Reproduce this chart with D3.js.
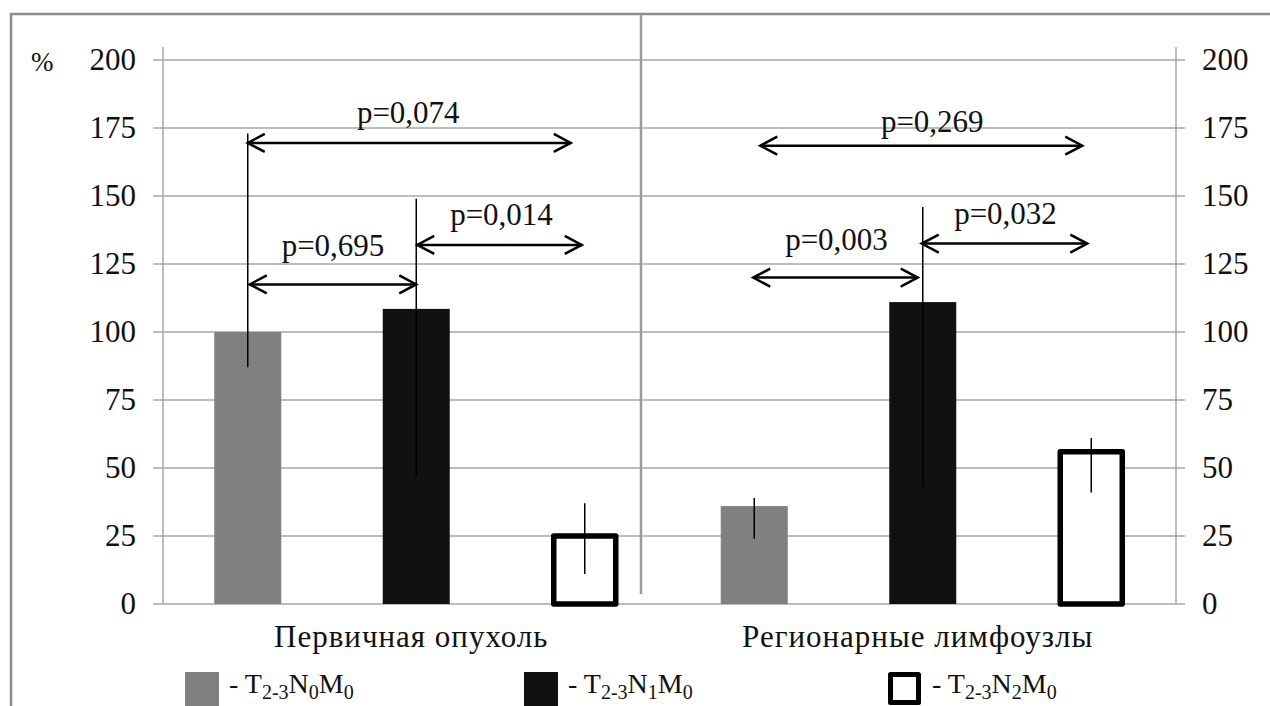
<!DOCTYPE html>
<html>
<head>
<meta charset="utf-8">
<script src="https://cdn.jsdelivr.net/npm/d3@7"></script>
<style>
  body { margin: 0; background: #fff; }
  svg, svg text { font-family: "Liberation Serif", Tinos, "Times New Roman", "DejaVu Serif", serif !important; }
  svg { display: block; }
</style>
</head>
<body>
<svg id="chart" width="1270" height="706"></svg>
<script>
// Chart data
const categories = ["Первичная опухоль", "Регионарные лимфоузлы"];
const series = ["T2-3N0M0", "T2-3N1M0", "T2-3N2M0"];

// bar heights, one array per series (order follows categories)
const valuesN0 = [100, 36];
const valuesN1 = [108.5, 111];
const valuesN2 = [25, 56];

// error bar ends [low, high]
const errN0 = [[87, 173], [24, 39]];
const errN1 = [[47, 149], [43, 146]];
const errN2 = [[11, 37], [41, 61]];

const yTicks = [0, 25, 50, 75, 100, 125, 150, 175, 200];

// p-value comparisons
const pCategory = ["Первичная опухоль", "Первичная опухоль", "Первичная опухоль",
                   "Регионарные лимфоузлы", "Регионарные лимфоузлы", "Регионарные лимфоузлы"];
const pFrom = ["T2-3N0M0", "T2-3N0M0", "T2-3N1M0", "T2-3N0M0", "T2-3N0M0", "T2-3N1M0"];
const pTo = ["T2-3N2M0", "T2-3N1M0", "T2-3N2M0", "T2-3N2M0", "T2-3N1M0", "T2-3N2M0"];
const pLevel = [169.5, 117.5, 132, 168.5, 120, 132.5];
const pLabel = ["p=0,074", "p=0,695", "p=0,014", "p=0,269", "p=0,003", "p=0,032"];

const svg = d3.select("#chart");

// layout
const plotLeft = 163, plotRight = 1176, plotTop = 47, plotBase = 604;
const fills = ["#808080", "#111111", "#ffffff"];

let x = d3.scaleBand()
    .domain(categories)
    .range([plotLeft, plotRight]);

let xs = d3.scalePoint()
    .domain(series)
    .range([-168.5, 168.5]);

let y = d3.scaleLinear()
    .domain([0, 200])
    .range([plotBase, 60]);

const barW = 67;

// outer frame (runs off the picture right and bottom)
svg.append("rect")
    .attr("x", 11).attr("y", 14)
    .attr("width", 1300).attr("height", 800)
    .attr("fill", "none")
    .attr("stroke", "#8c8c8c")
    .attr("stroke-width", 2.5);

// gridlines
svg.append("g")
    .selectAll("line")
    .data(yTicks)
    .join("line")
    .attr("x1", plotLeft - 10).attr("x2", plotRight + 9)
    .attr("y1", d => y(d)).attr("y2", d => y(d))
    .attr("stroke", "#a6a6a6")
    .attr("stroke-width", 1.5);

// axes lines
[plotLeft, plotRight].forEach(ax => {
    svg.append("line")
        .attr("x1", ax).attr("x2", ax)
        .attr("y1", plotTop).attr("y2", plotBase)
        .attr("stroke", "#a6a6a6")
        .attr("stroke-width", 1.5);
});

// tick labels both sides
let leftAxis = d3.axisLeft(y).tickValues(yTicks).tickSize(0).tickPadding(27);
let rightAxis = d3.axisRight(y).tickValues(yTicks).tickSize(0).tickPadding(26);

let gl = svg.append("g").attr("transform", `translate(${plotLeft},0)`).call(leftAxis);
let gr = svg.append("g").attr("transform", `translate(${plotRight},0)`).call(rightAxis);
[gl, gr].forEach(g => {
    g.attr("font-family", null).attr("font-size", null);
    g.select(".domain").remove();
    g.selectAll("text")
        .attr("font-size", 31)
        .attr("fill", "#111");
});

svg.append("text")
    .attr("x", 31).attr("y", 71)
    .attr("font-size", 27)
    .attr("fill", "#111")
    .text("%");

// middle separator
svg.append("line")
    .attr("x1", 641).attr("x2", 641)
    .attr("y1", 14).attr("y2", 594)
    .attr("stroke", "#9a9a9a")
    .attr("stroke-width", 2.5);

// bars
let allValues = [valuesN0, valuesN1, valuesN2];
let allErr = [errN0, errN1, errN2];
let bars = [];
series.forEach((s, si) => {
    categories.forEach((c, ci) => {
        bars.push({ cat: c, ser: s, si: si, v: allValues[si][ci], e: allErr[si][ci] });
    });
});

let cx = d => x(d.cat) + x.bandwidth() / 2 + xs(d.ser);

svg.append("g")
    .selectAll("rect")
    .data(bars)
    .join("rect")
    .attr("x", d => cx(d) - barW / 2 + (d.si === 2 ? 2.5 : 0))
    .attr("width", d => barW - (d.si === 2 ? 5 : 0))
    .attr("y", d => y(d.v))
    .attr("height", d => plotBase - y(d.v))
    .attr("fill", d => fills[d.si])
    .attr("stroke", d => d.si === 2 ? "#000" : "none")
    .attr("stroke-width", 5.5)
    .attr("stroke-linejoin", "round");

// error bars
svg.append("g")
    .selectAll("line")
    .data(bars)
    .join("line")
    .attr("x1", cx).attr("x2", cx)
    .attr("y1", d => y(d.e[0]))
    .attr("y2", d => y(d.e[1]))
    .attr("stroke", "#000")
    .attr("stroke-width", 1.5);

// p-value arrows
let arrows = pLabel.map((l, i) => ({
    x1: x(pCategory[i]) + x.bandwidth() / 2 + xs(pFrom[i]),
    x2: x(pCategory[i]) + x.bandwidth() / 2 + xs(pTo[i]),
    lvl: pLevel[i], label: l
}));
const gap = [20, 28, 20, 14, 28, 20];
const shift = [-1, 0, 2, 11, 1, 1];
const inset = [[0, 14], [2, 0], [1, 3], [6, 9], [-1, 5], [-1, 4]];

let ag = svg.append("g")
    .attr("stroke", "#000")
    .attr("stroke-width", 2.5)
    .attr("fill", "none");

arrows.forEach((a, i) => {
    let ay = y(a.lvl);
    let xa = a.x1 + inset[i][0], xb = a.x2 - inset[i][1];
    ag.append("line").attr("x1", xa).attr("x2", xb).attr("y1", ay).attr("y2", ay);
    ag.append("path").attr("d", `M${xa + 17},${ay - 9}L${xa},${ay}L${xa + 17},${ay + 9}`);
    ag.append("path").attr("d", `M${xb - 17},${ay - 9}L${xb},${ay}L${xb - 17},${ay + 9}`);
    svg.append("text")
        .attr("x", (xa + xb) / 2 + shift[i])
        .attr("y", ay - gap[i])
        .attr("text-anchor", "middle")
        .attr("font-size", 31)
        .attr("fill", "#111")
        .text(a.label);
});

// category labels
svg.append("g")
    .selectAll("text")
    .data(categories)
    .join("text")
    .attr("x", d => x(d) + x.bandwidth() / 2 - 5)
    .attr("y", 647)
    .attr("text-anchor", "middle")
    .attr("font-size", 31)
    .attr("letter-spacing", 1)
    .attr("fill", "#111")
    .text(d => d);

// legend
const legendX = [185, 524, 888];
let lg = svg.append("g");
series.forEach((s, i) => {
    let g = lg.append("g").attr("transform", `translate(${legendX[i]},672)`);
    g.append("rect")
        .attr("x", i === 2 ? 2.5 : 0).attr("y", i === 2 ? 2.5 : 0)
        .attr("width", i === 2 ? 28 : 34).attr("height", i === 2 ? 28 : 34)
        .attr("fill", fills[i])
        .attr("stroke", i === 2 ? "#000" : "none")
        .attr("stroke-width", 5)
        .attr("stroke-linejoin", "round");
    let t = g.append("text")
        .attr("x", 44).attr("y", 21)
        .attr("font-size", 28)
        .attr("fill", "#111");
    t.append("tspan").text("- ");
    // split name into letters and subscripts
    let parts = s.match(/[A-Z]|[0-9-]+/g);
    let sub = false;
    parts.forEach(p => {
        let isSub = /^[0-9-]+$/.test(p);
        let ts = t.append("tspan").text(p);
        if (isSub) {
            ts.attr("font-size", 20).attr("dy", sub ? 0 : 6);
        } else {
            ts.attr("dy", sub ? -6 : 0);
        }
        sub = isSub;
    });
});
</script>
</body>
</html>
